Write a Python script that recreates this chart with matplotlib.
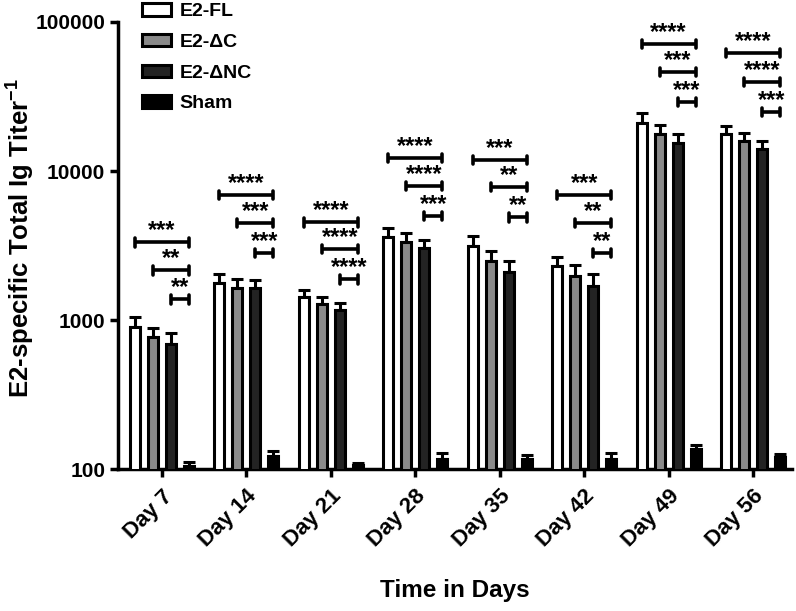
import numpy as np
import matplotlib
matplotlib.use("Agg")
import matplotlib.pyplot as plt
from matplotlib.patches import Patch

# ---- data ----
days = ["Day 7", "Day 14", "Day 21", "Day 28", "Day 35", "Day 42", "Day 49", "Day 56"]
groups = ["E2-FL", "E2-\u0394C", "E2-\u0394NC", "Sham"]

fl = [900, 1770, 1430, 3600, 3140, 2300, 21000, 17700]
fl_err = [147, 265, 160, 540, 524, 350, 3500, 2300]
dc = [770, 1640, 1280, 3340, 2490, 1970, 17700, 15900]
dc_err = [114, 245, 147, 500, 415, 370, 2700, 2100]
dnc = [690, 1640, 1170, 3040, 2100, 1690, 15400, 14000]
dnc_err = [128, 215, 130, 400, 390, 350, 2300, 1900]
sham = [105, 122, 107, 118, 117, 118, 136, 120]
sham_err = [6, 10, 3, 10, 7, 10, 9, 6]

# bracket heights per day: FL-Sham, dC-Sham, dNC-Sham
brk_fl = [3335, 6900, 4545, 12220, 11860, 6900, 71100, 62000]
brk_dc = [2166, 4480, 3000, 7930, 7820, 4480, 46150, 39530]
brk_dnc = [1383, 2820, 1885, 4990, 4910, 2820, 29040, 24900]
star_fl = ["***", "****", "****", "****", "***", "***", "****", "****"]
star_dc = ["**", "***", "****", "****", "**", "**", "***", "****"]
star_dnc = ["**", "***", "****", "***", "**", "**", "***", "***"]

colors = ["white", "#8a8a8a", "#232323", "black"]

plt.rcParams.update({
    "font.family": "Liberation Sans",
    "font.weight": "bold",
    "mathtext.fontset": "custom",
    "mathtext.bf": "Liberation Sans:bold",
    "mathtext.rm": "Liberation Sans:bold",
})

fig = plt.figure(figsize=(7.96, 6.11), dpi=100)
ax = fig.add_axes([0.148, 0.232, 0.847, 0.732])
ax.set_yscale("log")

x = np.arange(len(days))
step = 0.213
width = 0.12
offs = (np.arange(4) - 1.5) * step
vals = [fl, dc, dnc, sham]
errs = [fl_err, dc_err, dnc_err, sham_err]
for i in range(4):
    xi = x + offs[i]
    ax.bar(xi, vals[i], width=width, color=colors[i], edgecolor="black",
           linewidth=2.2, zorder=3)
    ax.errorbar(xi, vals[i], yerr=[np.zeros(len(days)), errs[i]], fmt="none",
                ecolor="black", elinewidth=2.2, capsize=4, capthick=2.2, zorder=2)


# significance brackets (each compares a group to Sham)
def bracket(x0, x1, y, label):
    ax.plot([x0, x1], [y, y], color="black", lw=2.6, solid_capstyle="butt", zorder=4)
    for xx in (x0, x1):
        ax.plot([xx, xx], [y / 1.07, y * 1.07], color="black", lw=2.6,
                solid_capstyle="round", zorder=4)
    ax.annotate(label, ((x0 + x1) / 2, y), xytext=(0, 0), textcoords="offset points",
                ha="center", va="bottom", fontsize=17, fontweight="bold")


for d in range(len(days)):
    xs = x[d] + offs[3]
    bracket(x[d] + offs[0], xs, brk_fl[d], star_fl[d])
    bracket(x[d] + offs[1], xs, brk_dc[d], star_dc[d])
    bracket(x[d] + offs[2], xs, brk_dnc[d], star_dnc[d])

ax.set_ylim(100, 100000)
ax.set_xlim(-0.52, 7.46)
ax.set_yticks([100, 1000, 10000, 100000])
ax.set_yticklabels(["100", "1000", "10000", "100000"])
ax.yaxis.set_minor_locator(matplotlib.ticker.NullLocator())
ax.set_xticks(x)
ax.set_xticklabels(days, rotation=45, ha="right", rotation_mode="anchor")
ax.tick_params(axis="both", which="major", length=6, width=2.5, labelsize=15,
               direction="out")
ax.tick_params(axis="x", pad=6, labelsize=16)
ax.tick_params(axis="y", pad=3)
for lab in ax.get_xticklabels() + ax.get_yticklabels():
    lab.set_fontweight("bold")
for s in ("top", "right"):
    ax.spines[s].set_visible(False)
for s in ("left", "bottom"):
    ax.spines[s].set_linewidth(2.5)

fig.text(0.572, 1 - 590 / 611, "Time in Days", ha="center", va="center",
         fontsize=17.5, fontweight="bold")
fig.text(0.024, 1 - 238 / 611, r"E2-specific Total Ig Titer$^{\mathbf{-1}}$",
         rotation=90, ha="center", va="center", fontsize=18.5, fontweight="bold")

handles = [Patch(facecolor=c, edgecolor="black", linewidth=2.2) for c in colors]
ax.legend(handles, groups, loc="upper left", bbox_to_anchor=(0.178, 0.995),
          bbox_transform=fig.transFigure, frameon=False,
          handlelength=1.5, handleheight=0.62, handletextpad=0.46,
          labelspacing=0.7, borderpad=0, borderaxespad=0,
          prop={"weight": "bold", "size": 14})

fig.savefig("out.png", dpi=100)
